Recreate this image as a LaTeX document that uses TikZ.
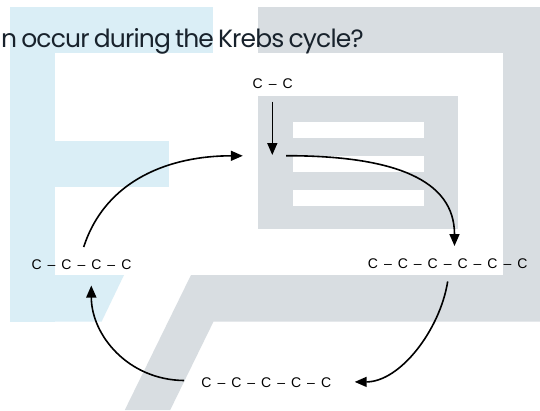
\documentclass[tikz,border=0pt]{standalone}
\usepackage{fontspec}
\setmainfont{Liberation Sans}
\newfontfamily\titlefont[WordSpace=0.7,LetterSpace=-3.3]{Poppins}
\usetikzlibrary{arrows.meta}
\definecolor{bgblue}{RGB}{218,238,246}
\definecolor{bggray}{RGB}{216,221,225}
\definecolor{titleink}{RGB}{24,34,44}
\newcommand\bnd{\hspace{6pt}–\hspace{6pt}}
\begin{document}
\begin{tikzpicture}[x=1pt,y=-1pt,
  lbl/.style={font=\fontsize{14}{16}\selectfont, inner sep=0pt, text=black},
  arr/.style={line width=1.6pt, -{Triangle[length=12pt,width=10pt]}},
  panel/.style={fill=bggray},
  bar/.style={fill=white}]
\useasboundingbox[fill=white] (0,0) rectangle (540,410);
% light blue backdrop shape
\fill[bgblue] (10,7) rectangle (213,53);
\fill[bgblue] (10,53) rectangle (55,321.6);
\fill[bgblue] (55,141.4) rectangle (168.7,186.8);
\fill[bgblue] (55,275) -- (124,275) -- (101.6,321.6) -- (55,321.6) -- cycle;
% grey backdrop shape
\fill[bggray] (258,7) rectangle (540,53);
\fill[bggray] (503,53) rectangle (540,275);
\fill[bggray] (191,275) -- (540,275) -- (540,321.6) -- (213.5,321.6) -- (170.2,410) -- (124.8,410) -- cycle;
% inner panel with bars
\fill[panel] (258.3,96) rectangle (458.3,229.3);
\fill[bar] (292.7,121.7) rectangle (424,137.7);
\fill[bar] (292.7,155.7) rectangle (424,171.7);
\fill[bar] (292.7,189.5) rectangle (424,205.5);
% title
\node[anchor=base west, inner sep=0pt, text=titleink, font=\titlefont\fontsize{25}{30}\selectfont] (title) at (1,47) {n occur during the Krebs cycle?};
% labels
\node[lbl] (c2) at (272.7,84) {C\bnd C};
\node[lbl] (c4) at (81.5,265) {C\bnd C\bnd C\bnd C};
\node[lbl] (c6) at (447.7,264) {C\bnd C\bnd C\bnd C\bnd C\bnd C};
\node[lbl] (c5) at (266.3,383) {C\bnd C\bnd C\bnd C\bnd C};
% connector end points
\coordinate (c2out) at (272.3,101.7);
\coordinate (hubin) at (272.3,155);
\coordinate (c4out) at (83.7,247);
\coordinate (hubL) at (242.8,155.8);
\coordinate (hubR) at (286,155.7);
\coordinate (c6in) at (454.5,246);
\coordinate (c6out) at (447.7,281.4);
\coordinate (c5in) at (354.7,381.9);
\coordinate (c5out) at (184.2,380.5);
\coordinate (c4in) at (91.3,285.5);
% connectors
\draw[arr] (c2out) -- (hubin);
\draw[arr] (c4out) .. controls (105.9,178.8) and (171,155.8) .. (hubL);
\draw[arr] (hubR) .. controls (395,155.7) and (454.5,180) .. (c6in);
\draw[arr] (c6out) .. controls (440,330) and (400,381.9) .. (c5in);
\draw[arr] (c5out) .. controls (128,380) and (91.3,335) .. (c4in);
\end{tikzpicture}
\end{document}
